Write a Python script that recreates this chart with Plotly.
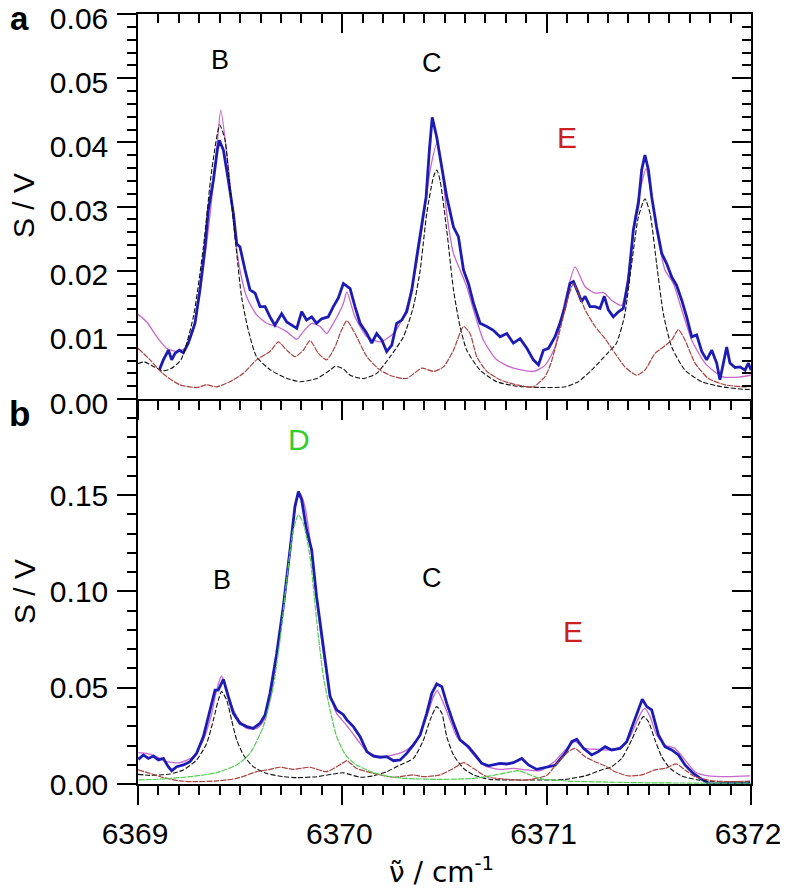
import plotly.graph_objects as go

# ---------------- data ----------------
# Panel a (top): experimental spectrum, total fit, component B/C (black), component E (brown)
TOP_EXP = [(6369.104, 0.0045), (6369.124, 0.0061), (6369.149, 0.0076), (6369.165, 0.0061), (6369.181, 0.0071),
           (6369.202, 0.0076), (6369.222, 0.0072), (6369.246, 0.0087), (6369.279, 0.0118), (6369.303, 0.0170),
           (6369.328, 0.0237), (6369.344, 0.0294), (6369.369, 0.0341), (6369.388, 0.0388), (6369.398, 0.0403),
           (6369.418, 0.0388), (6369.442, 0.0341), (6369.467, 0.0289), (6369.483, 0.0242), (6369.499, 0.0237),
           (6369.524, 0.0201), (6369.548, 0.0170), (6369.573, 0.0165), (6369.597, 0.0144), (6369.622, 0.0144),
           (6369.646, 0.0128), (6369.670, 0.0115), (6369.703, 0.0133), (6369.728, 0.0120), (6369.752, 0.0115),
           (6369.777, 0.0110), (6369.801, 0.0136), (6369.825, 0.0123), (6369.850, 0.0128), (6369.874, 0.0118),
           (6369.899, 0.0125), (6369.931, 0.0128), (6369.956, 0.0144), (6369.980, 0.0157), (6370.005, 0.0180),
           (6370.038, 0.0172), (6370.062, 0.0144), (6370.087, 0.0118), (6370.120, 0.0102), (6370.144, 0.0087),
           (6370.168, 0.0102), (6370.193, 0.0092), (6370.217, 0.0074), (6370.242, 0.0084), (6370.266, 0.0118),
           (6370.291, 0.0123), (6370.315, 0.0136), (6370.340, 0.0170), (6370.364, 0.0221), (6370.389, 0.0273),
           (6370.410, 0.0315), (6370.426, 0.0388), (6370.440, 0.0439), (6370.462, 0.0408), (6370.487, 0.0362),
           (6370.511, 0.0315), (6370.544, 0.0268), (6370.568, 0.0253), (6370.593, 0.0201), (6370.617, 0.0180),
           (6370.642, 0.0149), (6370.674, 0.0118), (6370.707, 0.0113), (6370.739, 0.0107), (6370.772, 0.0097),
           (6370.805, 0.0102), (6370.837, 0.0087), (6370.870, 0.0094), (6370.903, 0.0079), (6370.935, 0.0061),
           (6370.960, 0.0053), (6370.984, 0.0076), (6371.009, 0.0079), (6371.041, 0.0097), (6371.065, 0.0118),
           (6371.090, 0.0144), (6371.114, 0.0180), (6371.131, 0.0183), (6371.155, 0.0165), (6371.171, 0.0152),
           (6371.188, 0.0160), (6371.212, 0.0144), (6371.237, 0.0144), (6371.261, 0.0141), (6371.282, 0.0160),
           (6371.302, 0.0139), (6371.326, 0.0128), (6371.351, 0.0136), (6371.375, 0.0141), (6371.400, 0.0185),
           (6371.424, 0.0263), (6371.449, 0.0305), (6371.465, 0.0357), (6371.481, 0.0380), (6371.498, 0.0357),
           (6371.514, 0.0315), (6371.538, 0.0268), (6371.563, 0.0227), (6371.587, 0.0211), (6371.612, 0.0190),
           (6371.636, 0.0177), (6371.661, 0.0154), (6371.685, 0.0128), (6371.710, 0.0097), (6371.734, 0.0100),
           (6371.759, 0.0074), (6371.783, 0.0061), (6371.808, 0.0076), (6371.832, 0.0056), (6371.848, 0.0030),
           (6371.865, 0.0056), (6371.881, 0.0081), (6371.897, 0.0056), (6371.922, 0.0049), (6371.946, 0.0050),
           (6371.971, 0.0045), (6371.987, 0.0056), (6372.000, 0.0045)]

TOP_FIT = [(6369.000, 0.0132), (6369.043, 0.0120), (6369.092, 0.0097), (6369.140, 0.0079), (6369.189, 0.0074),
           (6369.230, 0.0079), (6369.271, 0.0107), (6369.312, 0.0185), (6369.353, 0.0289), (6369.385, 0.0388),
           (6369.405, 0.0450), (6369.442, 0.0362), (6369.475, 0.0253), (6369.499, 0.0201), (6369.532, 0.0159),
           (6369.581, 0.0131), (6369.630, 0.0118), (6369.679, 0.0113), (6369.728, 0.0105), (6369.777, 0.0093),
           (6369.809, 0.0105), (6369.850, 0.0118), (6369.891, 0.0113), (6369.923, 0.0102), (6369.956, 0.0118),
           (6370.005, 0.0149), (6370.022, 0.0167), (6370.062, 0.0128), (6370.120, 0.0097), (6370.185, 0.0089),
           (6370.250, 0.0102), (6370.299, 0.0128), (6370.348, 0.0185), (6370.389, 0.0263), (6370.430, 0.0357),
           (6370.462, 0.0398), (6370.487, 0.0362), (6370.511, 0.0289), (6370.544, 0.0227), (6370.576, 0.0201),
           (6370.609, 0.0175), (6370.642, 0.0139), (6370.690, 0.0092), (6370.756, 0.0061), (6370.837, 0.0048),
           (6370.935, 0.0043), (6370.990, 0.0052), (6371.040, 0.0080), (6371.090, 0.0154), (6371.139, 0.0206),
           (6371.188, 0.0175), (6371.237, 0.0165), (6371.277, 0.0166), (6371.318, 0.0154), (6371.367, 0.0146),
           (6371.400, 0.0196), (6371.432, 0.0284), (6371.465, 0.0336), (6371.486, 0.0359), (6371.514, 0.0315),
           (6371.547, 0.0248), (6371.579, 0.0201), (6371.620, 0.0180), (6371.661, 0.0139), (6371.710, 0.0092),
           (6371.775, 0.0056), (6371.857, 0.0035), (6371.938, 0.0034), (6372.000, 0.0037)]

TOP_BC = [(6369.000, 0.0055), (6369.030, 0.0058), (6369.080, 0.0050), (6369.120, 0.0044), (6369.160, 0.0047),
          (6369.210, 0.0061), (6369.271, 0.0128), (6369.320, 0.0237), (6369.361, 0.0357), (6369.400, 0.0427),
          (6369.425, 0.0405), (6369.450, 0.0330), (6369.480, 0.0237), (6369.507, 0.0159), (6369.540, 0.0107),
          (6369.580, 0.0066), (6369.650, 0.0045), (6369.730, 0.0032), (6369.795, 0.0027), (6369.875, 0.0032),
          (6369.940, 0.0045), (6369.965, 0.0051), (6370.005, 0.0047), (6370.038, 0.0037), (6370.103, 0.0032),
          (6370.168, 0.0040), (6370.234, 0.0066), (6370.299, 0.0097), (6370.348, 0.0144), (6370.381, 0.0201),
          (6370.413, 0.0289), (6370.446, 0.0346), (6370.462, 0.0357), (6370.478, 0.0341), (6370.511, 0.0263),
          (6370.544, 0.0170), (6370.576, 0.0113), (6370.609, 0.0076), (6370.674, 0.0045), (6370.756, 0.0027),
          (6370.854, 0.0020), (6370.968, 0.0018), (6371.090, 0.0019), (6371.155, 0.0027), (6371.220, 0.0045),
          (6371.300, 0.0072), (6371.340, 0.0086), (6371.380, 0.0128), (6371.416, 0.0211), (6371.449, 0.0284),
          (6371.481, 0.0312), (6371.506, 0.0289), (6371.538, 0.0211), (6371.571, 0.0133), (6371.612, 0.0081),
          (6371.677, 0.0045), (6371.759, 0.0027), (6371.857, 0.0019), (6371.971, 0.0015), (6372.000, 0.0015)]

TOP_E = [(6369.000, 0.0079), (6369.059, 0.0061), (6369.120, 0.0040), (6369.205, 0.0022), (6369.287, 0.0018),
         (6369.336, 0.0022), (6369.385, 0.0019), (6369.450, 0.0027), (6369.516, 0.0040), (6369.580, 0.0061),
         (6369.646, 0.0074), (6369.687, 0.0089), (6369.728, 0.0076), (6369.769, 0.0066), (6369.809, 0.0076),
         (6369.842, 0.0091), (6369.883, 0.0071), (6369.923, 0.0061), (6369.964, 0.0081), (6369.989, 0.0102),
         (6370.022, 0.0122), (6370.062, 0.0102), (6370.120, 0.0066), (6370.185, 0.0045), (6370.250, 0.0035),
         (6370.315, 0.0032), (6370.389, 0.0048), (6370.446, 0.0043), (6370.495, 0.0050), (6370.544, 0.0076),
         (6370.593, 0.0113), (6370.625, 0.0102), (6370.658, 0.0066), (6370.707, 0.0043), (6370.772, 0.0030),
         (6370.854, 0.0022), (6370.935, 0.0019), (6370.992, 0.0035), (6371.020, 0.0055), (6371.057, 0.0097),
         (6371.106, 0.0159), (6371.131, 0.0180), (6371.155, 0.0165), (6371.188, 0.0139), (6371.237, 0.0113),
         (6371.286, 0.0094), (6371.335, 0.0071), (6371.383, 0.0050), (6371.440, 0.0037), (6371.481, 0.0045),
         (6371.530, 0.0071), (6371.571, 0.0081), (6371.612, 0.0092), (6371.645, 0.0108), (6371.677, 0.0092),
         (6371.726, 0.0056), (6371.792, 0.0032), (6371.873, 0.0022), (6371.971, 0.0019), (6372.000, 0.0020)]

# Panel b (bottom): experimental spectrum, total fit, B/C (black), E (brown), D (green)
BOT_EXP = [(6369.002, 0.0128), (6369.026, 0.0151), (6369.051, 0.0133), (6369.075, 0.0145), (6369.100, 0.0125),
           (6369.124, 0.0133), (6369.148, 0.0090), (6369.165, 0.0069), (6369.189, 0.0090), (6369.222, 0.0099),
           (6369.254, 0.0116), (6369.287, 0.0159), (6369.320, 0.0246), (6369.352, 0.0385), (6369.377, 0.0488),
           (6369.393, 0.0488), (6369.418, 0.0544), (6369.442, 0.0454), (6369.467, 0.0367), (6369.499, 0.0315),
           (6369.532, 0.0298), (6369.564, 0.0289), (6369.597, 0.0315), (6369.622, 0.0359), (6369.646, 0.0471),
           (6369.679, 0.0679), (6369.711, 0.0921), (6369.744, 0.1216), (6369.768, 0.1441), (6369.785, 0.1519),
           (6369.801, 0.1476), (6369.825, 0.1320), (6369.850, 0.1216), (6369.874, 0.0973), (6369.907, 0.0714),
           (6369.940, 0.0454), (6369.972, 0.0385), (6370.005, 0.0360), (6370.022, 0.0333), (6370.054, 0.0298),
           (6370.087, 0.0246), (6370.120, 0.0168), (6370.152, 0.0145), (6370.185, 0.0139), (6370.217, 0.0142),
           (6370.250, 0.0121), (6370.283, 0.0125), (6370.315, 0.0159), (6370.348, 0.0203), (6370.381, 0.0255),
           (6370.413, 0.0367), (6370.438, 0.0471), (6370.462, 0.0520), (6370.487, 0.0506), (6370.511, 0.0419),
           (6370.544, 0.0315), (6370.576, 0.0229), (6370.617, 0.0194), (6370.650, 0.0151), (6370.682, 0.0107),
           (6370.715, 0.0094), (6370.739, 0.0099), (6370.772, 0.0107), (6370.805, 0.0104), (6370.837, 0.0111),
           (6370.878, 0.0133), (6370.911, 0.0099), (6370.951, 0.0076), (6370.992, 0.0087), (6371.041, 0.0097),
           (6371.090, 0.0159), (6371.123, 0.0220), (6371.147, 0.0232), (6371.180, 0.0185), (6371.220, 0.0151),
           (6371.253, 0.0168), (6371.286, 0.0194), (6371.318, 0.0177), (6371.359, 0.0185), (6371.392, 0.0220),
           (6371.424, 0.0315), (6371.457, 0.0402), (6371.468, 0.0440), (6371.490, 0.0402), (6371.514, 0.0385),
           (6371.547, 0.0255), (6371.579, 0.0194), (6371.612, 0.0177), (6371.645, 0.0151), (6371.677, 0.0099),
           (6371.718, 0.0055), (6371.759, 0.0024), (6371.800, 0.0000), (6371.840, 0.0000), (6371.881, 0.0003),
           (6371.922, 0.0007), (6371.971, 0.0003), (6371.995, 0.0010)]

BOT_FIT = [(6369.002, 0.0163), (6369.042, 0.0159), (6369.091, 0.0142), (6369.140, 0.0116), (6369.206, 0.0111),
           (6369.271, 0.0142), (6369.320, 0.0229), (6369.361, 0.0367), (6369.385, 0.0488), (6369.409, 0.0561),
           (6369.434, 0.0488), (6369.467, 0.0385), (6369.499, 0.0324), (6369.532, 0.0289), (6369.581, 0.0289),
           (6369.613, 0.0324), (6369.646, 0.0436), (6369.679, 0.0662), (6369.711, 0.0921), (6369.744, 0.1233),
           (6369.777, 0.1476), (6369.793, 0.1510), (6369.817, 0.1441), (6369.842, 0.1268), (6369.874, 0.0956),
           (6369.907, 0.0679), (6369.940, 0.0471), (6369.972, 0.0367), (6370.013, 0.0315), (6370.038, 0.0281),
           (6370.087, 0.0211), (6370.120, 0.0168), (6370.185, 0.0142), (6370.250, 0.0151), (6370.315, 0.0177),
           (6370.364, 0.0229), (6370.413, 0.0350), (6370.446, 0.0454), (6370.465, 0.0485), (6370.495, 0.0419),
           (6370.527, 0.0333), (6370.560, 0.0246), (6370.609, 0.0194), (6370.658, 0.0133), (6370.707, 0.0090),
           (6370.772, 0.0076), (6370.837, 0.0081), (6370.903, 0.0073), (6370.968, 0.0069), (6371.041, 0.0120),
           (6371.106, 0.0194), (6371.139, 0.0220), (6371.188, 0.0185), (6371.253, 0.0180), (6371.318, 0.0177),
           (6371.367, 0.0194), (6371.408, 0.0246), (6371.441, 0.0324), (6371.465, 0.0376), (6371.481, 0.0393),
           (6371.506, 0.0350), (6371.538, 0.0255), (6371.579, 0.0203), (6371.628, 0.0185), (6371.677, 0.0125),
           (6371.726, 0.0064), (6371.791, 0.0042), (6371.889, 0.0038), (6371.995, 0.0042)]

BOT_BC = [(6369.000, 0.0050), (6369.060, 0.0045), (6369.120, 0.0048), (6369.157, 0.0052), (6369.222, 0.0073),
          (6369.287, 0.0125), (6369.336, 0.0211), (6369.369, 0.0333), (6369.393, 0.0436), (6369.409, 0.0480),
          (6369.434, 0.0436), (6369.458, 0.0333), (6369.483, 0.0229), (6369.516, 0.0151), (6369.564, 0.0090),
          (6369.630, 0.0055), (6369.711, 0.0038), (6369.777, 0.0033), (6369.874, 0.0038), (6369.956, 0.0052),
          (6370.005, 0.0058), (6370.087, 0.0035), (6370.152, 0.0042), (6370.217, 0.0064), (6370.283, 0.0099),
          (6370.348, 0.0133), (6370.397, 0.0229), (6370.430, 0.0333), (6370.462, 0.0402), (6370.487, 0.0367),
          (6370.511, 0.0246), (6370.544, 0.0151), (6370.593, 0.0081), (6370.642, 0.0047), (6370.723, 0.0024),
          (6370.805, 0.0021), (6370.903, 0.0021), (6371.040, 0.0021), (6371.090, 0.0024), (6371.188, 0.0042),
          (6371.269, 0.0073), (6371.318, 0.0090), (6371.367, 0.0133), (6371.416, 0.0229), (6371.449, 0.0307),
          (6371.473, 0.0350), (6371.498, 0.0324), (6371.530, 0.0229), (6371.563, 0.0142), (6371.604, 0.0081),
          (6371.661, 0.0042), (6371.742, 0.0021), (6371.840, 0.0012), (6371.971, 0.0012), (6372.000, 0.0012)]

BOT_E = [(6369.000, 0.0073), (6369.059, 0.0055), (6369.124, 0.0033), (6369.206, 0.0016), (6369.287, 0.0012),
         (6369.385, 0.0016), (6369.483, 0.0029), (6369.581, 0.0064), (6369.646, 0.0076), (6369.695, 0.0087),
         (6369.760, 0.0076), (6369.842, 0.0087), (6369.923, 0.0064), (6370.005, 0.0111), (6370.022, 0.0121),
         (6370.070, 0.0081), (6370.152, 0.0055), (6370.250, 0.0035), (6370.348, 0.0047), (6370.397, 0.0038),
         (6370.478, 0.0047), (6370.544, 0.0081), (6370.593, 0.0111), (6370.642, 0.0081), (6370.707, 0.0038),
         (6370.805, 0.0024), (6370.903, 0.0021), (6371.000, 0.0045), (6371.057, 0.0116), (6371.106, 0.0168),
         (6371.139, 0.0185), (6371.188, 0.0142), (6371.237, 0.0116), (6371.286, 0.0094), (6371.335, 0.0064),
         (6371.400, 0.0042), (6371.465, 0.0047), (6371.530, 0.0073), (6371.579, 0.0081), (6371.636, 0.0104),
         (6371.677, 0.0073), (6371.726, 0.0038), (6371.808, 0.0017), (6371.905, 0.0012), (6371.995, 0.0015)]

BOT_D = [(6369.002, 0.0021), (6369.124, 0.0026), (6369.287, 0.0042), (6369.385, 0.0059), (6369.483, 0.0099),
         (6369.548, 0.0159), (6369.613, 0.0298), (6369.662, 0.0506), (6369.695, 0.0748), (6369.728, 0.1060),
         (6369.760, 0.1320), (6369.785, 0.1398), (6369.809, 0.1354), (6369.842, 0.1180), (6369.874, 0.0852),
         (6369.907, 0.0558), (6369.940, 0.0385), (6369.972, 0.0246), (6370.005, 0.0170), (6370.022, 0.0142),
         (6370.070, 0.0099), (6370.152, 0.0059), (6370.234, 0.0038), (6370.315, 0.0029), (6370.478, 0.0024),
         (6370.642, 0.0029), (6370.723, 0.0042), (6370.805, 0.0059), (6370.862, 0.0069), (6370.919, 0.0047),
         (6370.984, 0.0024), (6371.040, 0.0021), (6371.100, 0.0015), (6371.300, 0.0010), (6371.500, 0.0006),
         (6371.700, 0.0005), (6372.000, 0.0004)]

X_TICKS = [6369, 6370, 6371, 6372]
X_TICK_TEXT = ["6369", "6370", "6371", "6372"]
TOP_Y_TICKS = [0.00, 0.01, 0.02, 0.03, 0.04, 0.05, 0.06]
TOP_Y_TEXT = ["0.00", "0.01", "0.02", "0.03", "0.04", "0.05", "0.06"]
BOT_Y_TICKS = [0.00, 0.05, 0.10, 0.15]
BOT_Y_TEXT = ["0.00", "0.05", "0.10", "0.15"]

TOP_LABELS = [("B", 6369.40, 0.0528, "black"), ("C", 6370.44, 0.0524, "black"), ("E", 6371.10, 0.0408, "#cc2020")]
BOT_LABELS = [("D", 6369.79, 0.1787, "#33cc33"), ("B", 6369.41, 0.1060, "black"),
              ("C", 6370.44, 0.1070, "black"), ("E", 6371.13, 0.0790, "#cc2020")]

# ---------------- styling ----------------
FONT = "Liberation Sans, Arial, sans-serif"
BLUE = "#1c1cb4"
MAGENTA = "#c668cc"
BLACK = "#111111"
BROWN = "#a8433f"
GREEN = "#55cc55"

# the page body has an 8 px margin: plot area must land at x 138..751, y 14..784 of the window
OFF = 8


def xy(pairs):
    return [p[0] for p in pairs], [p[1] for p in pairs]


fig = go.Figure()


def add(pairs, xa, ya, color, width, dash="solid", shape="linear"):
    x, y = xy(pairs)
    fig.add_trace(go.Scatter(x=x, y=y, xaxis=xa, yaxis=ya, mode="lines",
                             line=dict(color=color, width=width, dash=dash, shape=shape, smoothing=0.6),
                             showlegend=False, hoverinfo="skip"))


# top panel
add(TOP_FIT, "x2", "y2", MAGENTA, 1.3, shape="spline")
add(TOP_EXP, "x2", "y2", BLUE, 2.8)
add(TOP_BC, "x2", "y2", BLACK, 1.1, dash="5px,2px", shape="spline")
add(TOP_E, "x2", "y2", BROWN, 1.2, dash="6px,1px", shape="spline")
# bottom panel
add(BOT_FIT, "x", "y", MAGENTA, 1.3, shape="spline")
add(BOT_EXP, "x", "y", BLUE, 2.8)
add(BOT_BC, "x", "y", BLACK, 1.1, dash="5px,2px", shape="spline")
add(BOT_E, "x", "y", BROWN, 1.2, dash="6px,1px", shape="spline")
add(BOT_D, "x", "y", GREEN, 1.2, dash="6px,1px", shape="spline")

# helper (empty) traces so the mirrored frame axes get drawn
for xa, ya in [("x3", "y2"), ("x2", "y3"), ("x", "y4")]:
    fig.add_trace(go.Scatter(x=[None], y=[None], xaxis=xa, yaxis=ya, mode="lines",
                             showlegend=False, hoverinfo="skip"))

XR = [6369, 6372]
TOPR = [0, 0.0600001]
BOTR = [0, 0.19999]
tickfont = dict(family=FONT, size=30, color="black")
common = dict(showline=True, linecolor="black", linewidth=1.5, showgrid=False, zeroline=False,
              tickcolor="black", tickwidth=1.5, ticklen=19, tickfont=tickfont, automargin=False,
              ticklabeloverflow="allow")


def minor(d, t0, side):
    return dict(dtick=d, tick0=t0, ticks=side, ticklen=9, tickwidth=1.5, tickcolor="black")


fig.update_layout(
    width=788 - OFF, height=891 - OFF,
    margin=dict(l=138 - OFF, r=37, t=14 - OFF, b=107, autoexpand=False),
    paper_bgcolor="white", plot_bgcolor="white",
    xaxis=dict(domain=[0, 1], anchor="y", range=XR, ticks="outside", tickvals=X_TICKS, ticktext=X_TICK_TEXT,
               ticklabelstandoff=3, ticklabelshift=-3, minor=minor(0.1, 6369, "outside"), **common),
    yaxis=dict(domain=[0, 0.5], anchor="x", range=BOTR, ticks="outside",
               tickvals=BOT_Y_TICKS, ticktext=BOT_Y_TEXT, ticklabelstandoff=3,
               minor=minor(0.01, 0, "outside"), **common),
    xaxis2=dict(domain=[0, 1], anchor="y2", range=XR, ticks="outside", tickvals=X_TICKS, showticklabels=False,
                minor=minor(0.1, 6369, "outside"), **common),
    yaxis2=dict(domain=[0.5, 1], anchor="x2", range=TOPR, ticks="outside",
                tickvals=TOP_Y_TICKS, ticktext=TOP_Y_TEXT, ticklabelstandoff=3, ticklabelshift=4,
                minor=minor(0.002, 0, "outside"), **common),
    xaxis3=dict(overlaying="x2", anchor="y2", side="top", range=XR, ticks="inside", tickvals=X_TICKS,
                showticklabels=False, minor=minor(0.1, 6369, "inside"), **common),
    yaxis3=dict(overlaying="y2", anchor="x2", side="right", range=TOPR, ticks="inside",
                tickvals=TOP_Y_TICKS, showticklabels=False, minor=minor(0.002, 0, "inside"), **common),
    yaxis4=dict(overlaying="y", anchor="x", side="right", range=BOTR, ticks="inside",
                tickvals=BOT_Y_TICKS, showticklabels=False, minor=minor(0.01, 0, "inside"), **common),
)


def px(ax):
    return (ax - 138) / 613


def py(ay):
    return (784 - ay) / 770


ann = []
for t, x, y, c in TOP_LABELS:
    ann.append(dict(text=t, x=x, y=y, xref="x2", yref="y2", showarrow=False,
                    font=dict(family=FONT, size=27 if c == "black" else 30, color=c)))
for t, x, y, c in BOT_LABELS:
    ann.append(dict(text=t, x=x, y=y, xref="x", yref="y", showarrow=False,
                    font=dict(family=FONT, size=27 if c == "black" else 30, color=c)))
# panel letters
ann.append(dict(text="<b>a</b>", x=px(19), y=py(18), xref="paper", yref="paper", showarrow=False,
                xanchor="center", yanchor="middle", borderpad=0, font=dict(family=FONT, size=33, color="black")))
ann.append(dict(text="<b>b</b>", x=px(19), y=py(413), xref="paper", yref="paper", showarrow=False,
                xanchor="center", yanchor="middle", font=dict(family=FONT, size=35, color="black")))
# axis titles
for ay in (206, 592):
    ann.append(dict(text="S / V", x=px(24), y=py(ay), xref="paper", yref="paper", showarrow=False,
                    textangle=-90, xanchor="center", yanchor="middle", borderpad=0,
                    font=dict(family=FONT, size=30, color="black")))
# x title: nu with combining tilde
ann.append(dict(text="\u03bd\u0303 / cm<sup>-1</sup>", x=px(388), y=py(890), xref="paper",
                yref="paper", showarrow=False, xanchor="left", yanchor="bottom", borderpad=0,
                font=dict(family="DejaVu Sans", size=28, color="black")))
fig.update_layout(annotations=ann)

fig.write_html("out.html")
